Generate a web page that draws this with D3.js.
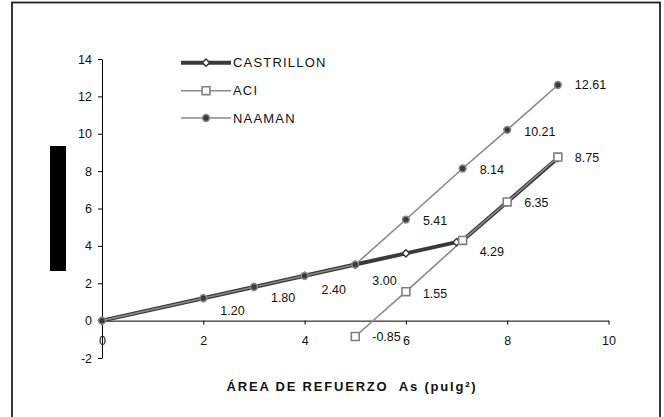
<!DOCTYPE html>
<html>
<head>
<meta charset="utf-8">
<script src="https://cdn.jsdelivr.net/npm/d3@7"></script>
<style>
  body { margin: 0; background: #fff; }
  svg { font-family: "Liberation Sans", Arial, sans-serif; }
</style>
</head>
<body>
<svg id="chart" width="664" height="417"></svg>
<script>
// data
var seriesNames = ["CASTRILLON", "ACI", "NAAMAN"];
var castrillonX = [0, 2, 3, 4, 5, 6, 7, 7.12, 8, 9];
var castrillonY = [0, 1.2, 1.8, 2.4, 3.0, 3.6, 4.2, 4.29, 6.35, 8.7];
var aciX = [5, 6, 7.12, 8, 9];
var aciY = [-0.85, 1.55, 4.29, 6.35, 8.75];
var naamanX = [0, 2, 3, 4, 5, 6, 7.12, 8, 9];
var naamanY = [0, 1.2, 1.8, 2.4, 3.0, 5.41, 8.14, 10.21, 12.61];
var xTicks = [0, 2, 4, 6, 8, 10];
var yTicks = [-2, 0, 2, 4, 6, 8, 10, 12, 14];
// value labels: x position and value shown
var labelX = [2, 3, 4, 5, 5, 6, 6, 7.12, 7.12, 8, 8, 9, 9];
var labelV = [1.20, 1.80, 2.40, 3.00, -0.85, 1.55, 5.41, 4.29, 8.14, 6.35, 10.21, 8.75, 12.61];
// vertical nudge of each label (px)
var labelDy = [12, 11, 14, 16, 0, 2, 1, 11, 1, 1, 2, 1, 0];
var xTitle = "ÁREA DE REFUERZO  As (pulg²)";

var svg = d3.select("#chart");

// outer frame
svg.append("rect")
  .attr("x", 12).attr("y", 2.5)
  .attr("width", 648).attr("height", 430)
  .attr("fill", "none").attr("stroke", "#222").attr("stroke-width", 1.8);

var x = d3.scaleLinear().domain([0, 10]).range([102, 608.5]);
var y = d3.scaleLinear().domain([-2, 14]).range([358, 59]);
var plain = function (d) { return String(d); };

// y axis
var yAxis = svg.append("g")
  .attr("transform", "translate(" + x(0) + ",0)")
  .call(d3.axisLeft(y).tickValues(yTicks).tickFormat(plain)
    .tickSize(4).tickSizeOuter(0).tickPadding(6));
// x axis at y = 0
var xAxis = svg.append("g")
  .attr("transform", "translate(0," + y(0) + ")")
  .call(d3.axisBottom(x).tickValues(xTicks).tickFormat(plain)
    .tickSize(4).tickSizeOuter(0).tickPadding(11));

[xAxis, yAxis].forEach(function (g) {
  g.selectAll("path, line").attr("stroke", "#000").attr("stroke-width", 1);
  g.selectAll("text").attr("font-size", 12.5).attr("fill", "#111")
    .attr("font-family", "Liberation Sans, Arial, sans-serif");
});

function pts(xs, ys) {
  return xs.map(function (d, i) { return [d, ys[i]]; });
}
var line = d3.line().x(function (d) { return x(d[0]); }).y(function (d) { return y(d[1]); });

var naaman = pts(naamanX, naamanY);
var aci = pts(aciX, aciY);
var castrillon = pts(castrillonX, castrillonY);

// lines
svg.append("path").datum(castrillon).attr("d", line)
  .attr("fill", "none").attr("stroke", "#3a3a3a").attr("stroke-width", 4);
svg.append("path").datum(naaman).attr("d", line)
  .attr("fill", "none").attr("stroke", "#8a8a8a").attr("stroke-width", 1.6);
svg.append("path").datum(aci).attr("d", line)
  .attr("fill", "none").attr("stroke", "#8a8a8a").attr("stroke-width", 1.6);

// markers
var diamond = d3.symbol().type(d3.symbolSquare).size(26);
var square = d3.symbol().type(d3.symbolSquare).size(62);

svg.selectAll(".mk-c").data(castrillon).enter().append("path")
  .attr("d", diamond)
  .attr("transform", function (d) { return "translate(" + x(d[0]) + "," + y(d[1]) + ") rotate(45)"; })
  .attr("fill", "#fff").attr("stroke", "#333").attr("stroke-width", 1.4);
svg.selectAll(".mk-a").data(aci).enter().append("path")
  .attr("d", square)
  .attr("transform", function (d) { return "translate(" + x(d[0]) + "," + y(d[1]) + ")"; })
  .attr("fill", "#fff").attr("stroke", "#808080").attr("stroke-width", 1.6);
svg.selectAll(".mk-n").data(naaman).enter().append("circle")
  .attr("cx", function (d) { return x(d[0]); })
  .attr("cy", function (d) { return y(d[1]); })
  .attr("r", 3.4)
  .attr("fill", "#3a3a3a").attr("stroke", "#8a8a8a").attr("stroke-width", 1.5);

// value labels
svg.selectAll(".lbl").data(labelV).enter().append("text")
  .attr("x", function (d, i) { return x(labelX[i]) + 17; })
  .attr("y", function (d, i) { return y(d) + labelDy[i]; })
  .attr("dy", "0.35em")
  .attr("font-size", 12.5).attr("fill", "#111")
  .text(function (d) { return d.toFixed(2); });

// legend
var legY = [62.7, 90.7, 118];
var leg = svg.selectAll(".leg").data(seriesNames).enter().append("g")
  .attr("transform", function (d, i) { return "translate(181," + legY[i] + ")"; });
leg.append("line").attr("x1", 0).attr("x2", 50)
  .attr("stroke", function (d, i) { return i === 0 ? "#3a3a3a" : "#8a8a8a"; })
  .attr("stroke-width", function (d, i) { return i === 0 ? 4 : 1.6; });
leg.each(function (d, i) {
  var g = d3.select(this);
  if (i === 0) {
    g.append("path").attr("d", diamond).attr("transform", "translate(25,0) rotate(45)")
      .attr("fill", "#fff").attr("stroke", "#333").attr("stroke-width", 1.4);
  } else if (i === 1) {
    g.append("path").attr("d", square).attr("transform", "translate(25,0)")
      .attr("fill", "#fff").attr("stroke", "#808080").attr("stroke-width", 1.6);
  } else {
    g.append("circle").attr("cx", 25).attr("r", 3.4)
      .attr("fill", "#3a3a3a").attr("stroke", "#8a8a8a").attr("stroke-width", 1.5);
  }
});
leg.append("text").attr("x", 52).attr("dy", "0.35em")
  .attr("font-size", 13).attr("letter-spacing", 1.2).attr("fill", "#111")
  .text(function (d) { return d; });

// y title (rendered as a solid black block in the reference)
svg.append("rect").attr("x", 50).attr("y", 146).attr("width", 16).attr("height", 125)
  .attr("fill", "#000");

// x title
svg.append("text")
  .attr("x", 352).attr("y", 391)
  .attr("text-anchor", "middle")
  .style("white-space", "pre")
  .attr("font-size", 13).attr("font-weight", "bold")
  .attr("letter-spacing", 1.8).attr("fill", "#111")
  .text(xTitle);
</script>
</body>
</html>
